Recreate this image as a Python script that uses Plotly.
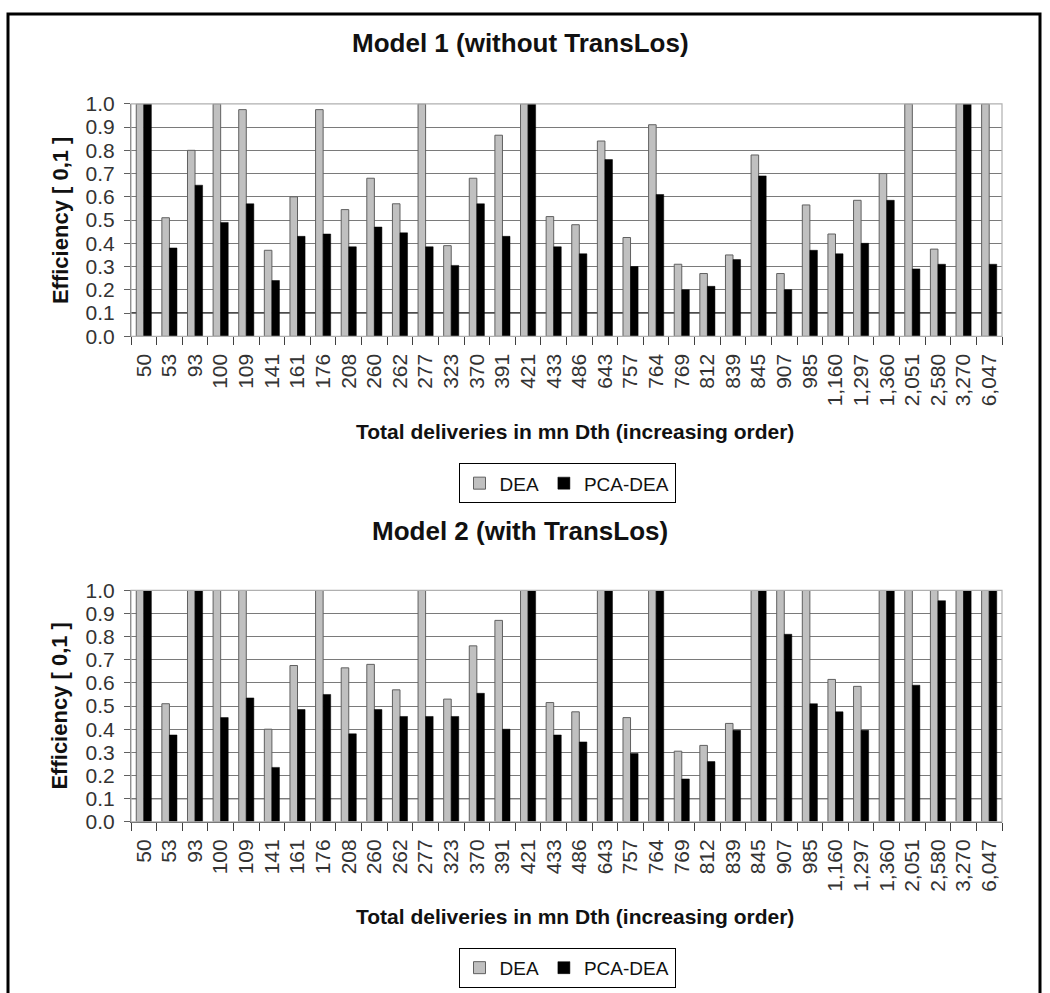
import plotly.graph_objects as go

categories = ["50", "53", "93", "100", "109", "141", "161", "176", "208", "260",
              "262", "277", "323", "370", "391", "421", "433", "486", "643", "757",
              "764", "769", "812", "839", "845", "907", "985", "1,160", "1,297",
              "1,360", "2,051", "2,580", "3,270", "6,047"]

m1_dea = [1.0, 0.51, 0.80, 1.0, 0.975, 0.37, 0.60, 0.975, 0.545, 0.68,
          0.57, 1.0, 0.39, 0.68, 0.865, 1.0, 0.515, 0.48, 0.84, 0.425,
          0.91, 0.31, 0.27, 0.35, 0.78, 0.27, 0.565, 0.44, 0.585,
          0.70, 1.0, 0.375, 1.0, 1.0]
m1_pca = [1.0, 0.38, 0.65, 0.49, 0.57, 0.24, 0.43, 0.44, 0.385, 0.47,
          0.445, 0.385, 0.305, 0.57, 0.43, 1.0, 0.385, 0.355, 0.76, 0.30,
          0.61, 0.20, 0.215, 0.33, 0.69, 0.20, 0.37, 0.355, 0.40,
          0.585, 0.29, 0.31, 1.0, 0.31]

m2_dea = [1.0, 0.51, 1.0, 1.0, 1.0, 0.40, 0.675, 1.0, 0.665, 0.68,
          0.57, 1.0, 0.53, 0.76, 0.87, 1.0, 0.515, 0.475, 1.0, 0.45,
          1.0, 0.305, 0.33, 0.425, 1.0, 1.0, 1.0, 0.615, 0.585,
          1.0, 1.0, 1.0, 1.0, 1.0]
m2_pca = [1.0, 0.375, 1.0, 0.45, 0.535, 0.235, 0.485, 0.55, 0.38, 0.485,
          0.455, 0.455, 0.455, 0.555, 0.40, 1.0, 0.375, 0.345, 1.0, 0.295,
          1.0, 0.185, 0.26, 0.395, 1.0, 0.81, 0.51, 0.475, 0.395,
          1.0, 0.59, 0.955, 1.0, 1.0]

titles = ["Model 1 (without TransLos)", "Model 2 (with TransLos)"]
x_title = "Total deliveries in mn Dth (increasing order)"
y_title = "Efficiency [ 0,1 ]"
series_names = ["DEA", "PCA-DEA"]

FONT = "Liberation Sans, Arial, sans-serif"
W, H = 1050, 993
GREY = "#c0c0c0"

fig = go.Figure()

panels = [(m1_dea, m1_pca, "x", "y", "legend"),
          (m2_dea, m2_pca, "x2", "y2", "legend2")]
for dea, pca, xa, ya, lg in panels:
    fig.add_trace(go.Bar(x=categories, y=dea, name=series_names[0], xaxis=xa, yaxis=ya,
                         legend=lg, marker=dict(color=GREY, line=dict(color="#606060", width=1))))
    fig.add_trace(go.Bar(x=categories, y=pca, name=series_names[1], xaxis=xa, yaxis=ya,
                         legend=lg, marker=dict(color="#000000", line=dict(color="#000000", width=0.5))))

def px_x(p):
    return p / W

def px_y(p):
    return 1 - p / H

x_dom = [px_x(131), px_x(1002)]
y_doms = [[px_y(332), px_y(94)], [px_y(829), px_y(592)]]

common_x = dict(type="category", categoryorder="array", categoryarray=categories,
                tickangle=-90, ticks="outside", tickson="boundaries", ticklen=8,
                tickcolor="#404040", showline=True, linecolor="#404040", linewidth=1.2,
                showgrid=False, tickfont=dict(family=FONT, size=21, color="#333333"),
                ticklabelstandoff=8, fixedrange=True)
common_y = dict(range=[0, 1.0], dtick=0.1, tickformat=".1f", ticks="outside", ticklen=6,
                tickcolor="#606060", showline=True, linecolor="#606060", linewidth=1.2,
                showgrid=True, gridcolor="#7a7a7a", gridwidth=1.4, zeroline=False,
                tickfont=dict(family=FONT, size=21, color="#333333"),
                ticklabelstandoff=5, fixedrange=True)

leg_common = dict(orientation="h", xanchor="center", yanchor="top",
                  bordercolor="#000000", borderwidth=1, bgcolor="white",
                  font=dict(family=FONT, size=19, color="#111111"), itemwidth=30,
                  tracegroupgap=0)

fig.update_layout(
    width=W, height=H,
    margin=dict(l=0, r=0, t=0, b=0),
    paper_bgcolor="white", plot_bgcolor="white",
    barmode="group", bargap=0.41, bargroupgap=0.0,
    font=dict(family=FONT, color="#111111"),
    xaxis=dict(domain=x_dom, anchor="y", **common_x),
    yaxis=dict(domain=y_doms[0], anchor="x", **common_y),
    xaxis2=dict(domain=x_dom, anchor="y2", **common_x),
    yaxis2=dict(domain=y_doms[1], anchor="x2", **common_y),
    legend=dict(x=px_x(567), y=px_y(462), **leg_common),
    legend2=dict(x=px_x(567), y=px_y(958), **leg_common),
)

title_y = [32, 531]
xtitle_y = [429, 926]
ytitle_y = [213, 710]
annotations = []
for i in range(2):
    annotations.append(dict(text="<b>%s</b>" % titles[i], xref="paper", yref="paper",
                            x=px_x(520), y=px_y(title_y[i]), xanchor="center", yanchor="middle",
                            showarrow=False, font=dict(family=FONT, size=26, color="#111111")))
    annotations.append(dict(text="<b>%s</b>" % x_title, xref="paper", yref="paper",
                            x=px_x(575), y=px_y(xtitle_y[i]), xanchor="center", yanchor="middle",
                            showarrow=False, font=dict(family=FONT, size=21, color="#111111")))
    annotations.append(dict(text="<b>%s</b>" % y_title, xref="paper", yref="paper",
                            x=px_x(60), y=px_y(ytitle_y[i]), xanchor="center", yanchor="middle",
                            textangle=-90, showarrow=False,
                            font=dict(family=FONT, size=22, color="#111111")))
fig.update_layout(annotations=annotations)

shapes = []
for xr, yr in [("x", "y"), ("x2", "y2")]:
    shapes.append(dict(type="rect", xref=xr + " domain", yref=yr + " domain",
                       x0=0, x1=1, y0=0, y1=1, line=dict(color="#b0b0b0", width=1.2)))
    shapes.append(dict(type="line", xref=xr + " domain", yref=yr, x0=0, x1=1, y0=0.1, y1=0.1,
                       line=dict(color="#111111", width=1.4), layer="below"))
shapes.append(dict(type="rect", xref="paper", yref="paper", x0=px_x(8), x1=px_x(1040),
                   y0=-0.02, y1=px_y(2), line=dict(color="#000000", width=3)))
fig.update_layout(shapes=shapes)

fig.write_html("out.html", config={"displayModeBar": False},
               post_script="document.body.style.margin='0';document.body.style.overflow='hidden';")
